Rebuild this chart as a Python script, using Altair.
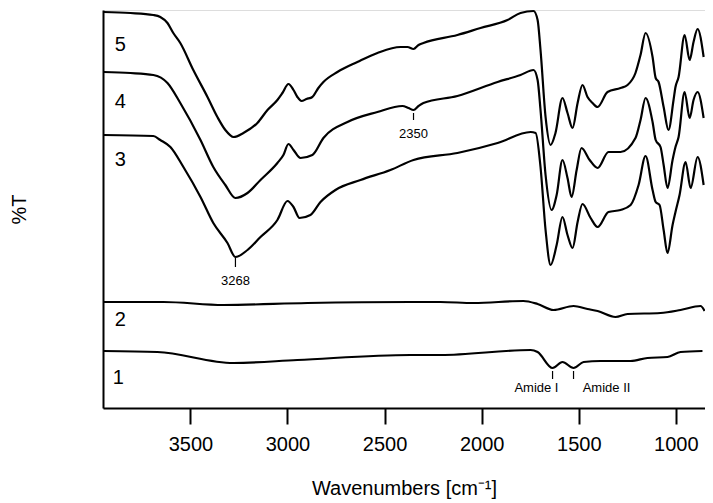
import altair as alt
import pandas as pd

# ---- spectra (wavenumber, %T in arbitrary stacked units) ----
wn5 = [3948, 3809, 3691, 3655, 3618, 3588, 3552, 3485, 3412, 3361, 3320, 3278, 3227, 3155, 3103,
       3052, 3026, 2995, 2969, 2949, 2928, 2902, 2872, 2841, 2815, 2743, 2640, 2537, 2418, 2382,
       2351, 2325, 2300, 2125, 2006, 1867, 1800, 1733, 1712, 1697, 1671, 1645, 1620, 1584, 1558,
       1532, 1506, 1481, 1455, 1429, 1403, 1352, 1285, 1249, 1208, 1182, 1156, 1120, 1104, 1089,
       1063, 1038, 1012, 1002, 986, 955, 929, 909, 888, 857]
t5 = [396, 395, 393, 391, 385, 375, 365, 338, 311, 291, 278, 271, 275, 285, 298,
      308, 315, 324, 318, 311, 307, 309, 311, 320, 326, 336, 346, 355, 361, 361,
      359, 363, 365, 373, 380, 388, 395, 397, 388, 358, 291, 263, 275, 310, 295,
      280, 305, 323, 311, 305, 301, 316, 320, 323, 335, 353, 375, 351, 330, 326,
      301, 278, 308, 321, 331, 373, 348, 366, 379, 351]

wn4 = [3948, 3809, 3691, 3618, 3552, 3448, 3382, 3320, 3268, 3206, 3139, 3052, 3021, 2995, 2969,
       2933, 2872, 2815, 2691, 2537, 2408, 2377, 2351, 2325, 2300, 2125, 1918, 1800, 1733, 1712,
       1697, 1671, 1640, 1614, 1584, 1558, 1537, 1511, 1486, 1444, 1403, 1347, 1285, 1208, 1182,
       1156, 1120, 1104, 1079, 1063, 1043, 1017, 1002, 986, 955, 929, 909, 888, 857]
t4 = [336, 335, 333, 325, 305, 268, 241, 223, 210, 215, 228, 245, 253, 264, 258,
      250, 253, 270, 286, 296, 302, 300, 298, 302, 305, 312, 326, 333, 338, 328,
      298, 233, 198, 213, 248, 230, 211, 238, 260, 248, 240, 256, 256, 270, 288,
      310, 286, 268, 261, 243, 220, 248, 261, 271, 316, 290, 308, 316, 290]

wn3 = [3948, 3691, 3655, 3603, 3536, 3448, 3382, 3309, 3268, 3206, 3139, 3052, 3000, 2969, 2938,
       2882, 2830, 2753, 2624, 2470, 2351, 2125, 1918, 1748, 1722, 1697, 1671, 1645, 1614, 1584,
       1558, 1532, 1506, 1481, 1439, 1403, 1347, 1285, 1233, 1192, 1156, 1120, 1104, 1084, 1063,
       1043, 1017, 1002, 981, 950, 924, 888, 857]
t3 = [273, 272, 268, 261, 241, 211, 185, 165, 151, 158, 171, 188, 207, 201, 190,
      193, 206, 218, 228, 238, 248, 255, 265, 276, 275, 241, 178, 143, 163, 191,
      173, 160, 186, 204, 190, 181, 196, 198, 203, 223, 252, 218, 206, 203, 178,
      155, 183, 196, 213, 246, 220, 251, 223]

wn2 = [3948, 3639, 3330, 2897, 2367, 2212, 2042, 1785, 1712, 1630, 1527, 1455, 1403, 1311, 1249,
       1079, 976, 873, 852]
t2 = [106, 106, 103, 105, 106, 106, 105, 107, 104, 98, 102, 99, 97, 91, 94,
      95, 98, 102, 97]

wn1 = [3948, 3670, 3278, 2949, 2367, 2212, 1748, 1712, 1635, 1584, 1527, 1475, 1388, 1233, 1146,
       1043, 976, 863]
t1 = [57, 56, 45, 48, 53, 53, 58, 56, 40, 46, 40, 46, 47, 47, 50,
      51, 56, 57]

# ---- curve number labels ----
num_text = ["5", "4", "3", "2", "1"]
num_wn = [3861, 3861, 3861, 3861, 3871]
num_t = [363, 306, 248, 88, 30]

# ---- peak annotations ----
ann_text = ["3268", "2350", "Amide I", "Amide II"]
ann_wn = [3268, 2351, 1718, 1357]
ann_t = [127, 274, 20, 20]
mark_wn = [3268, 2351, 1635, 1527]
mark_t1 = [150, 295, 37, 37]
mark_t2 = [141, 288, 29, 29]

tick_values = [3500, 3000, 2500, 2000, 1500, 1000]

rows = []
for name, w, t in [("5", wn5, t5), ("4", wn4, t4), ("3", wn3, t3), ("2", wn2, t2), ("1", wn1, t1)]:
    for a, b in zip(w, t):
        rows.append({"series": name, "wn": a, "T": b})
df = pd.DataFrame(rows)

nums = pd.DataFrame({"label": num_text, "wn": num_wn, "T": num_t})
anns = pd.DataFrame({"label": ann_text, "wn": ann_wn, "T": ann_t})
marks = pd.DataFrame({"wn": mark_wn, "T": mark_t1, "T2": mark_t2})

FONT = "Liberation Sans"
xscale = alt.Scale(domain=[3950, 850], nice=False, zero=False)
yscale = alt.Scale(domain=[0, 398], nice=False, zero=False)

x_axis = alt.Axis(values=tick_values, format="d", title="Wavenumbers [cm⁻¹]", grid=False,
                  domainColor="black", domainWidth=2, tickColor="black", tickWidth=2,
                  tickSize=16, labelFont=FONT, labelFontSize=20, labelColor="black",
                  labelPadding=10, titleFont=FONT, titleFontSize=20, titleFontWeight="normal",
                  titleColor="black", titlePadding=24, labelFlush=False)
y_axis = alt.Axis(title="%T", grid=False, ticks=False, labels=False,
                  domainColor="black", domainWidth=2, titleFont=FONT, titleFontSize=20,
                  titleFontWeight="normal", titleColor="black", titlePadding=74)

lines = alt.Chart(df).mark_line(color="black", strokeWidth=2.2, interpolate="monotone").encode(
    x=alt.X("wn:Q", scale=xscale, axis=x_axis),
    y=alt.Y("T:Q", scale=yscale, axis=y_axis),
    detail="series:N",
    order=alt.Order("wn:Q", sort="descending"),
)

num_layer = alt.Chart(nums).mark_text(font=FONT, fontSize=20, color="black").encode(
    x=alt.X("wn:Q", scale=xscale), y=alt.Y("T:Q", scale=yscale), text="label:N")

ann_layer = alt.Chart(anns).mark_text(font=FONT, fontSize=13, color="black").encode(
    x=alt.X("wn:Q", scale=xscale), y=alt.Y("T:Q", scale=yscale), text="label:N")

mark_layer = alt.Chart(marks).mark_rule(color="black", strokeWidth=1.2).encode(
    x=alt.X("wn:Q", scale=xscale), y=alt.Y("T:Q", scale=yscale), y2="T2:Q")

chart = alt.layer(lines, num_layer, ann_layer, mark_layer).properties(
    width=602, height=398,
    autosize=alt.AutoSizeParams(type="none"),
    padding={"left": 95, "top": 2, "right": 0, "bottom": 93},
).configure_view(stroke=None).configure(background="white")

chart.save("out.html", embed_options={"renderer": "svg", "actions": False})
